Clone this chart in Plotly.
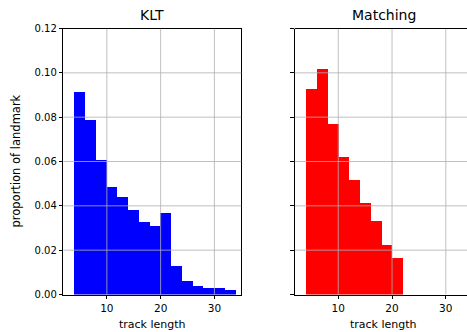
import plotly.graph_objects as go

# ---- data ----
klt_centers = [5, 7, 9, 11, 13, 15, 17, 19, 21, 23, 25, 27, 29, 31, 33]
klt_values = [0.0914, 0.0789, 0.0611, 0.0485, 0.0444, 0.0385, 0.0331, 0.0313,
              0.0372, 0.0131, 0.0063, 0.0041, 0.0032, 0.0032, 0.0021]
match_centers = [5, 7, 9, 11, 13, 15, 17, 19, 21]
match_values = [0.0929, 0.1019, 0.0771, 0.0622, 0.0519, 0.0415, 0.0334, 0.0226, 0.0167]
bin_width = 2
x_ticks = [10, 20, 30]
y_ticks = [0.0, 0.02, 0.04, 0.06, 0.08, 0.10, 0.12]
titles = ["KLT", "Matching"]
x_label = "track length"
y_label = "proportion of landmark"

W, H = 467, 332
FONT = "DejaVu Sans"

fig = go.Figure()
fig.add_trace(go.Bar(x=klt_centers, y=klt_values, width=bin_width,
                     marker=dict(color="#0000ff", line=dict(width=0)),
                     xaxis="x", yaxis="y", showlegend=False))
fig.add_trace(go.Bar(x=match_centers, y=match_values, width=bin_width,
                     marker=dict(color="#ff0000", line=dict(width=0)),
                     xaxis="x2", yaxis="y2", showlegend=False))

x1_dom = [63.3 / W, 241.3 / W]
x2_dom = [294.7 / W, 1.0]
y_dom = [(H - 294.5) / H, (H - 28.5) / H]

common_x = dict(tickmode="array", tickvals=x_ticks, ticks="outside", ticklen=3.5,
                tickwidth=0.8, tickcolor="black", showgrid=False, zeroline=False,
                showline=True, linecolor="black", linewidth=1, automargin=False,
                tickfont=dict(family=FONT, size=10.5, color="black"),
                layer="above traces")
common_y = dict(tickmode="array", tickvals=y_ticks, ticks="outside", ticklen=3.5,
                tickwidth=0.8, tickcolor="black", showgrid=False, zeroline=False,
                showline=True, linecolor="black", linewidth=1, range=[0, 0.12],
                automargin=False,
                tickformat=".2f", tickfont=dict(family=FONT, size=10, color="black"),
                layer="above traces")

fig.update_layout(
    width=W, height=H, autosize=False,
    margin=dict(l=0, r=0, t=0, b=0, autoexpand=False),
    paper_bgcolor="white", plot_bgcolor="white",
    bargap=0,
    xaxis=dict(domain=x1_dom, range=[1.9, 35.0], mirror=True, anchor="y", **common_x),
    yaxis=dict(domain=y_dom, mirror=True, anchor="x", **common_y),
    xaxis2=dict(domain=x2_dom, range=[1.9, 33.94], mirror=False, anchor="y2", **common_x),
    yaxis2=dict(domain=y_dom, mirror=False, anchor="x2", showticklabels=False, **common_y),
)

# grid lines drawn above bars (as in the reference)
shapes = []
for xr, yr in (("x", "y"), ("x2", "y2")):
    for t in x_ticks:
        shapes.append(dict(type="line", xref=xr, yref=yr, x0=t, x1=t, y0=0, y1=0.12,
                           line=dict(color="#b0b0b0", width=0.8), layer="above"))
    for t in y_ticks[1:-1]:
        shapes.append(dict(type="line", xref=xr + " domain", yref=yr, x0=0, x1=1, y0=t, y1=t,
                           line=dict(color="#b0b0b0", width=0.8), layer="above"))
# top spine of right plot
shapes.append(dict(type="line", xref="paper", yref="paper", x0=x2_dom[0], x1=1.0,
                   y0=y_dom[1], y1=y_dom[1], line=dict(color="black", width=1), layer="above"))
fig.update_layout(shapes=shapes)

left_c = (x1_dom[0] + x1_dom[1]) / 2
right_c = (294.7 + 472.7) / 2 / W
tfont = dict(family=FONT, size=14, color="black")
lfont = dict(family=FONT, size=11.5, color="black")
xfont = dict(family=FONT, size=11, color="black")
ann = [
    dict(text=titles[0], x=left_c, y=(H - 25) / H, xref="paper", yref="paper",
         xanchor="center", yanchor="bottom", showarrow=False, font=tfont),
    dict(text=titles[1], x=right_c, y=(H - 25) / H, xref="paper", yref="paper",
         xanchor="center", yanchor="bottom", showarrow=False, font=tfont),
    dict(text=x_label, x=left_c, y=(H - 316) / H, xref="paper", yref="paper",
         xanchor="center", yanchor="top", showarrow=False, font=xfont),
    dict(text=x_label, x=right_c, y=(H - 316) / H, xref="paper", yref="paper",
         xanchor="center", yanchor="top", showarrow=False, font=xfont),
    dict(text=y_label, x=16 / W, y=(y_dom[0] + y_dom[1]) / 2, xref="paper", yref="paper",
         xanchor="center", yanchor="middle", textangle=-90, showarrow=False, font=lfont),
]
fig.update_layout(annotations=ann)

fig.write_html("out.html", config={"displayModeBar": False},
               post_script="document.body.style.margin='0';document.body.style.padding='0';")
